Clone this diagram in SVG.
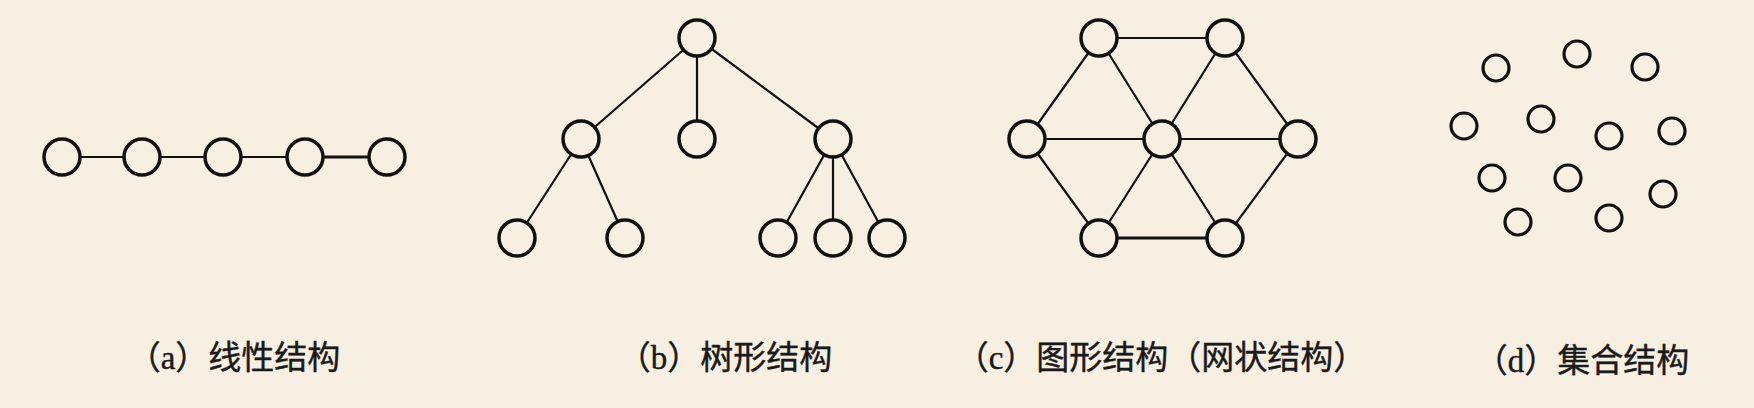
<svg xmlns="http://www.w3.org/2000/svg" width="1754" height="408" viewBox="0 0 1754 408">
<style>
.n{fill:#F6EFE2;stroke:#111;stroke-width:3.5}
.s{fill:none;stroke:#111;stroke-width:3.2}
.e line{stroke:#111;stroke-width:2.2}
.lbl{font-family:"Liberation Serif","Noto Sans CJK SC",serif;font-size:33px;fill:#1a1a1a;stroke:#1a1a1a;stroke-width:0.4;text-anchor:middle}
</style>
<rect width="1754" height="408" fill="#F6EFE2"/>
<g id="connectors" class="e">
<line x1="62" y1="157" x2="142" y2="157"/>
<line x1="142" y1="157" x2="223" y2="157"/>
<line x1="223" y1="157" x2="305" y2="157"/>
<line x1="305" y1="157" x2="387" y2="157" style="stroke-width:3"/>
<line x1="697" y1="38" x2="581" y2="139"/>
<line x1="697" y1="38" x2="697" y2="139"/>
<line x1="697" y1="38" x2="833" y2="139"/>
<line x1="581" y1="139" x2="517" y2="238"/>
<line x1="581" y1="139" x2="625" y2="238"/>
<line x1="833" y1="139" x2="778" y2="238"/>
<line x1="833" y1="139" x2="833" y2="238"/>
<line x1="833" y1="139" x2="887" y2="238"/>
<line x1="1099" y1="38" x2="1225" y2="38"/>
<line x1="1099" y1="38" x2="1027" y2="139"/>
<line x1="1099" y1="38" x2="1162" y2="139"/>
<line x1="1225" y1="38" x2="1162" y2="139"/>
<line x1="1225" y1="38" x2="1298" y2="139"/>
<line x1="1027" y1="139" x2="1162" y2="139"/>
<line x1="1162" y1="139" x2="1298" y2="139"/>
<line x1="1027" y1="139" x2="1099" y2="238"/>
<line x1="1162" y1="139" x2="1099" y2="238"/>
<line x1="1162" y1="139" x2="1225" y2="238"/>
<line x1="1298" y1="139" x2="1225" y2="238"/>
<line x1="1099" y1="238" x2="1225" y2="238" style="stroke-width:3"/>
</g>
<g id="linear">
<g id="a1"><circle class="n" cx="62" cy="157" r="18"/></g>
<g id="a2"><circle class="n" cx="142" cy="157" r="18"/></g>
<g id="a3"><circle class="n" cx="223" cy="157" r="18"/></g>
<g id="a4"><circle class="n" cx="305" cy="157" r="18"/></g>
<g id="a5"><circle class="n" cx="387" cy="157" r="18"/></g>
</g>
<g id="tree">
<g id="b1"><circle class="n" cx="697" cy="38" r="18"/></g>
<g id="b2"><circle class="n" cx="581" cy="139" r="18"/></g>
<g id="b3"><circle class="n" cx="697" cy="139" r="18"/></g>
<g id="b4"><circle class="n" cx="833" cy="139" r="18"/></g>
<g id="b5"><circle class="n" cx="517" cy="238" r="18"/></g>
<g id="b6"><circle class="n" cx="625" cy="238" r="18"/></g>
<g id="b7"><circle class="n" cx="778" cy="238" r="18"/></g>
<g id="b8"><circle class="n" cx="833" cy="238" r="18"/></g>
<g id="b9"><circle class="n" cx="887" cy="238" r="18"/></g>
</g>
<g id="graph">
<g id="c1"><circle class="n" cx="1099" cy="38" r="18"/></g>
<g id="c2"><circle class="n" cx="1225" cy="38" r="18"/></g>
<g id="c3"><circle class="n" cx="1027" cy="139" r="18"/></g>
<g id="c4"><circle class="n" cx="1162" cy="139" r="18"/></g>
<g id="c5"><circle class="n" cx="1298" cy="139" r="18"/></g>
<g id="c6"><circle class="n" cx="1099" cy="238" r="18"/></g>
<g id="c7"><circle class="n" cx="1225" cy="238" r="18"/></g>
</g>
<g id="set">
<g id="d1"><circle class="s" cx="1496" cy="68" r="13"/></g>
<g id="d2"><circle class="s" cx="1577" cy="54" r="13"/></g>
<g id="d3"><circle class="s" cx="1645" cy="67" r="13"/></g>
<g id="d4"><circle class="s" cx="1464" cy="126" r="13"/></g>
<g id="d5"><circle class="s" cx="1541" cy="119" r="13"/></g>
<g id="d6"><circle class="s" cx="1609" cy="136" r="13"/></g>
<g id="d7"><circle class="s" cx="1672" cy="131" r="13"/></g>
<g id="d8"><circle class="s" cx="1492" cy="178" r="13"/></g>
<g id="d9"><circle class="s" cx="1568" cy="178" r="13"/></g>
<g id="d10"><circle class="s" cx="1663" cy="194" r="13"/></g>
<g id="d11"><circle class="s" cx="1518" cy="222" r="13"/></g>
<g id="d12"><circle class="s" cx="1609" cy="218" r="13"/></g>
</g>
<g id="labels">
<text class="lbl" x="234" y="369">（a）线性结构</text>
<text class="lbl" x="725" y="369">（b）树形结构</text>
<text class="lbl" x="1161" y="369">（c）图形结构（网状结构）</text>
<text class="lbl" x="1582" y="372">（d）集合结构</text>
</g>
</svg>
